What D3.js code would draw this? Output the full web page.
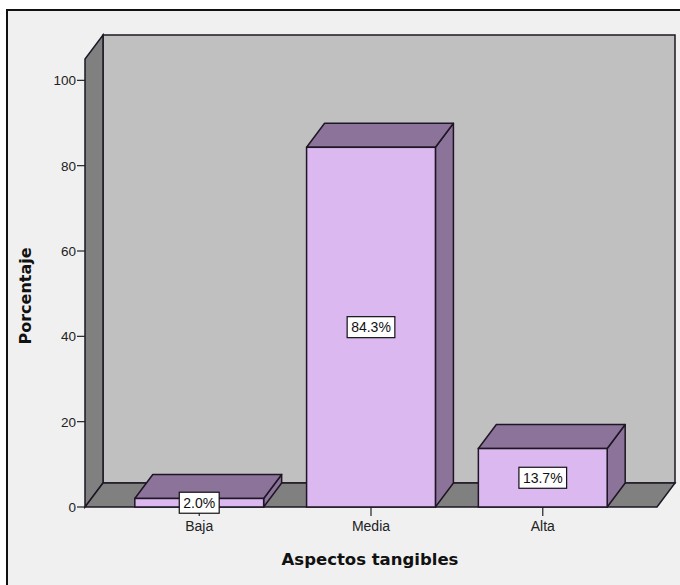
<!DOCTYPE html>
<html>
<head>
<meta charset="utf-8">
<script src="https://cdn.jsdelivr.net/npm/d3@7/dist/d3.min.js"></script>
<style>
  html, body { margin: 0; padding: 0; background: #ffffff; }
  svg { display: block; }
</style>
</head>
<body>
<svg id="chart" width="680" height="585"></svg>
<script>
// Percentages per level of "Aspectos tangibles"
const categories = ["Baja", "Media", "Alta"];
const percentages = [2.0, 84.3, 13.7];
const valueLabels = ["2.0%", "84.3%", "13.7%"];
const yTicks = [0, 20, 40, 60, 80, 100];

const svg = d3.select("#chart");

// 3D depth offset of the pseudo-perspective box
const DX = 18, DY = -24;
const plotLeft = 85, plotRight = 657, plotBottom = 507, plotTop = 59;

const x = d3.scaleBand()
  .domain(categories)
  .range([plotLeft, plotRight])
  .paddingInner(0.25)
  .paddingOuter(0.29);

const y = d3.scaleLinear()
  .domain([0, 105])
  .range([plotBottom, plotTop]);

const colors = {
  page: "#f0f0f0",
  backWall: "#c0c0c0",
  sideWall: "#808080",
  barFront: "#dcb8f0",
  barShade: "#8b7399",
  edge: "#1e1624"
};

// Outer frame
svg.append("rect")
  .attr("x", 7).attr("y", 10)
  .attr("width", 700).attr("height", 600)
  .attr("fill", colors.page)
  .attr("stroke", "#111").attr("stroke-width", 2);

const poly = pts => pts.map(p => p.join(",")).join(" ");

const y0 = y(0), yTop = y(105);

// Back wall
svg.append("polygon")
  .attr("points", poly([
    [plotLeft + DX, yTop + DY], [plotRight + DX, yTop + DY],
    [plotRight + DX, y0 + DY], [plotLeft + DX, y0 + DY]]))
  .attr("fill", colors.backWall)
  .attr("stroke", colors.edge).attr("stroke-width", 1.5);

// Left wall
svg.append("polygon")
  .attr("points", poly([
    [plotLeft, y0], [plotLeft, yTop],
    [plotLeft + DX, yTop + DY], [plotLeft + DX, y0 + DY]]))
  .attr("fill", colors.sideWall)
  .attr("stroke", colors.edge).attr("stroke-width", 1.5);

// Floor
svg.append("polygon")
  .attr("points", poly([
    [plotLeft, y0], [plotRight, y0],
    [plotRight + DX, y0 + DY], [plotLeft + DX, y0 + DY]]))
  .attr("fill", colors.sideWall)
  .attr("stroke", colors.edge).attr("stroke-width", 1.5);

// Y axis ticks and labels
const yAxis = svg.append("g");
yTicks.forEach(t => {
  yAxis.append("line")
    .attr("x1", plotLeft - 8).attr("x2", plotLeft)
    .attr("y1", y(t)).attr("y2", y(t))
    .attr("stroke", "#222").attr("stroke-width", 1.2);
  yAxis.append("text")
    .attr("x", plotLeft - 9).attr("y", y(t))
    .attr("dy", "0.36em")
    .attr("text-anchor", "end")
    .attr("font-family", "Liberation Sans, Arial, sans-serif")
    .attr("font-size", 13.5)
    .attr("fill", "#222")
    .text(t);
});

// X axis ticks and category labels
categories.forEach(c => {
  const cx = x(c) + x.bandwidth() / 2;
  svg.append("line")
    .attr("x1", cx).attr("x2", cx)
    .attr("y1", y0).attr("y2", y0 + 9)
    .attr("stroke", "#222").attr("stroke-width", 1.2);
  svg.append("text")
    .attr("x", cx).attr("y", y0 + 24)
    .attr("text-anchor", "middle")
    .attr("font-family", "Liberation Sans, Arial, sans-serif")
    .attr("font-size", 14)
    .attr("fill", "#222")
    .text(c);
});

// Bars as 3D boxes: front, top and right side faces
const bars = svg.append("g");
categories.forEach((c, i) => {
  const v = percentages[i];
  const x0 = x(c), x1 = x(c) + x.bandwidth();
  const yv = y(v);
  const g = bars.append("g");
  g.append("polygon")
    .attr("points", poly([[x1, y0], [x1, yv], [x1 + DX, yv + DY], [x1 + DX, y0 + DY]]))
    .attr("fill", colors.barShade)
    .attr("stroke", colors.edge).attr("stroke-width", 1.5)
    .attr("stroke-linejoin", "round");
  g.append("polygon")
    .attr("points", poly([[x0, yv], [x1, yv], [x1 + DX, yv + DY], [x0 + DX, yv + DY]]))
    .attr("fill", colors.barShade)
    .attr("stroke", colors.edge).attr("stroke-width", 1.5)
    .attr("stroke-linejoin", "round");
  g.append("rect")
    .attr("x", x0).attr("y", yv)
    .attr("width", x1 - x0).attr("height", y0 - yv)
    .attr("fill", colors.barFront)
    .attr("stroke", colors.edge).attr("stroke-width", 1.5);
});

// Value labels in white boxes on each bar face
categories.forEach((c, i) => {
  const cx = x(c) + x.bandwidth() / 2;
  const cy = (y(percentages[i]) + y0) / 2;
  const g = svg.append("g");
  const t = g.append("text")
    .attr("x", cx).attr("y", cy)
    .attr("dy", "0.36em")
    .attr("text-anchor", "middle")
    .attr("font-family", "Liberation Sans, Arial, sans-serif")
    .attr("font-size", 14)
    .attr("fill", "#111")
    .text(valueLabels[i]);
  const bb = t.node().getBBox();
  g.insert("rect", "text")
    .attr("x", bb.x - 4).attr("y", cy - 10.5)
    .attr("width", bb.width + 8).attr("height", 21)
    .attr("fill", "#ffffff")
    .attr("stroke", "#111").attr("stroke-width", 1.2);
});

// Axis titles
svg.append("text")
  .attr("transform", `translate(31, 296) rotate(-90)`)
  .attr("text-anchor", "middle")
  .attr("font-family", "DejaVu Sans, Verdana, sans-serif")
  .attr("font-weight", "bold")
  .attr("font-size", 16)
  .attr("fill", "#111")
  .text("Porcentaje");

svg.append("text")
  .attr("x", 370).attr("y", 565)
  .attr("text-anchor", "middle")
  .attr("font-family", "DejaVu Sans, Verdana, sans-serif")
  .attr("font-weight", "bold")
  .attr("font-size", 16.5)
  .attr("fill", "#111")
  .text("Aspectos tangibles");
</script>
</body>
</html>
